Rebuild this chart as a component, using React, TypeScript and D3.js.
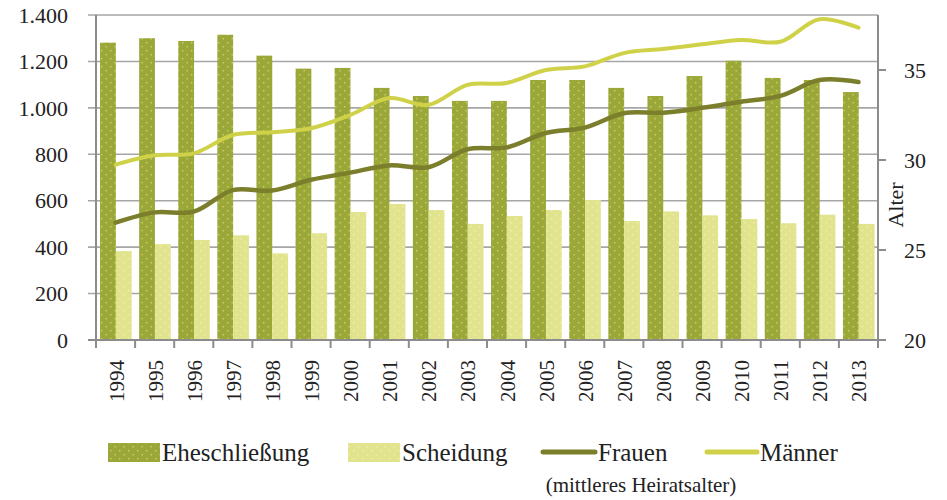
import React, { useEffect, useRef } from "react";
import * as d3 from "d3";

// Jahre (Kategorien)
const years = [
  "1994", "1995", "1996", "1997", "1998", "1999", "2000", "2001", "2002", "2003",
  "2004", "2005", "2006", "2007", "2008", "2009", "2010", "2011", "2012", "2013",
];

// Anzahl Eheschließungen / Scheidungen (linke Achse)
const eheschliessung = [
  1281, 1300, 1288, 1315, 1225, 1169, 1172, 1086, 1051, 1030,
  1030, 1120, 1120, 1086, 1051, 1137, 1203, 1129, 1120, 1068,
];
const scheidung = [
  383, 413, 431, 451, 373, 460, 551, 586, 560, 500,
  534, 560, 603, 513, 554, 537, 521, 503, 540, 500,
];

// mittleres Heiratsalter (rechte Achse)
const frauen = [
  26.52, 27.09, 27.13, 28.33, 28.3, 28.9, 29.3, 29.7, 29.6, 30.6,
  30.7, 31.5, 31.8, 32.6, 32.63, 32.9, 33.24, 33.56, 34.44, 34.33,
];
const maenner = [
  29.74, 30.26, 30.37, 31.39, 31.54, 31.76, 32.5, 33.44, 33.06, 34.17,
  34.28, 35.0, 35.2, 35.94, 36.17, 36.43, 36.67, 36.57, 37.82, 37.35,
];

const leftTicks = [0, 200, 400, 600, 800, 1000, 1200, 1400];
const rightTicks = [20, 25, 30, 35];

const COLOR_EHE = "#9aa83a";
const COLOR_SCH = "#e1e48c";
const COLOR_FRAUEN = "#7b7f2c";
const COLOR_MAENNER = "#cfd249";
const GRID = "#a6a6a6";
const AXIS = "#8c8c8c";
const FONT = "'Liberation Serif', 'DejaVu Serif', serif";

const App = () => {
  const ref = useRef<SVGSVGElement>(null);

  useEffect(() => {
    const svg = d3.select(ref.current);
    svg.selectAll("*").remove();

    const left = 96;
    const right = 878;
    const top = 15;
    const bottom = 340;

    const defs = svg.append("defs");
    const makePattern = (id: string, base: string, dot: string) => {
      const p = defs
        .append("pattern")
        .attr("id", id)
        .attr("patternUnits", "userSpaceOnUse")
        .attr("width", 9)
        .attr("height", 8);
      p.append("rect").attr("width", 9).attr("height", 8).attr("fill", base);
      p.append("rect").attr("x", 2).attr("y", 2).attr("width", 1.4).attr("height", 1.4).attr("fill", dot);
      p.append("rect").attr("x", 6.5).attr("y", 6).attr("width", 1.4).attr("height", 1.4).attr("fill", dot);
    };
    makePattern("pat-ehe", COLOR_EHE, "#dccb5c");
    makePattern("pat-sch", COLOR_SCH, "#eef0bb");

    const x = d3.scaleBand().domain(years).range([left, right]).paddingInner(0).paddingOuter(0);
    const yLeft = d3.scaleLinear().domain([0, 1400]).range([bottom, top]);
    const yRight = d3.scaleLinear().domain([20, 20 + (bottom - top) / 18]).range([bottom, top]);

    const bw = x.bandwidth();
    const barW = 15.8;
    const groupOffset = (bw - 2 * barW) / 2 + 0.3;

    // Gitterlinien
    svg.append("g")
      .selectAll("line")
      .data(leftTicks)
      .enter()
      .append("line")
      .attr("x1", left - 8)
      .attr("x2", right)
      .attr("y1", (d) => yLeft(d))
      .attr("y2", (d) => yLeft(d))
      .attr("stroke", GRID)
      .attr("stroke-width", 1.6);

    // Balken
    const bars = svg.append("g");
    bars.selectAll(".ehe")
      .data(eheschliessung)
      .enter()
      .append("rect")
      .attr("x", (_d, i) => (x(years[i]) as number) + groupOffset)
      .attr("y", (d) => yLeft(d))
      .attr("width", barW)
      .attr("height", (d) => bottom - yLeft(d))
      .attr("fill", "url(#pat-ehe)");
    bars.selectAll(".sch")
      .data(scheidung)
      .enter()
      .append("rect")
      .attr("x", (_d, i) => (x(years[i]) as number) + groupOffset + barW)
      .attr("y", (d) => yLeft(d))
      .attr("width", barW)
      .attr("height", (d) => bottom - yLeft(d))
      .attr("fill", "url(#pat-sch)");

    // Achsen
    svg.append("line")
      .attr("x1", left).attr("x2", left)
      .attr("y1", top).attr("y2", bottom)
      .attr("stroke", AXIS).attr("stroke-width", 2);
    svg.append("line")
      .attr("x1", right).attr("x2", right)
      .attr("y1", top).attr("y2", bottom + 8)
      .attr("stroke", AXIS).attr("stroke-width", 2);
    svg.append("line")
      .attr("x1", left - 8).attr("x2", right + 8)
      .attr("y1", bottom).attr("y2", bottom)
      .attr("stroke", AXIS).attr("stroke-width", 2);

    // Kategorie-Ticks
    svg.append("g")
      .selectAll("line")
      .data(years)
      .enter()
      .append("line")
      .attr("x1", (d) => x(d) as number)
      .attr("x2", (d) => x(d) as number)
      .attr("y1", bottom)
      .attr("y2", bottom + 8)
      .attr("stroke", AXIS)
      .attr("stroke-width", 2);

    // rechte Ticks
    svg.append("g")
      .selectAll("line")
      .data(rightTicks)
      .enter()
      .append("line")
      .attr("x1", right)
      .attr("x2", right + 8)
      .attr("y1", (d) => yRight(d))
      .attr("y2", (d) => yRight(d))
      .attr("stroke", AXIS)
      .attr("stroke-width", 2);

    // Linien
    const line = d3
      .line<number>()
      .x((_d, i) => (x(years[i]) as number) + bw / 2)
      .y((d) => yRight(d))
      .curve(d3.curveCatmullRom.alpha(0.5));
    svg.append("path")
      .attr("d", line(maenner))
      .attr("fill", "none")
      .attr("stroke", COLOR_MAENNER)
      .attr("stroke-width", 4)
      .attr("stroke-linecap", "round");
    svg.append("path")
      .attr("d", line(frauen))
      .attr("fill", "none")
      .attr("stroke", COLOR_FRAUEN)
      .attr("stroke-width", 4.5)
      .attr("stroke-linecap", "round");

    // Beschriftungen links
    const fmt = (v: number) => d3.format(",")(v).replace(/,/g, ".");
    svg.append("g")
      .selectAll("text")
      .data(leftTicks)
      .enter()
      .append("text")
      .attr("x", 68)
      .attr("y", (d) => yLeft(d))
      .attr("dy", "0.35em")
      .attr("text-anchor", "end")
      .attr("font-family", FONT)
      .attr("font-size", 22)
      .attr("fill", "#222")
      .text((d) => fmt(d));

    // Beschriftungen rechts
    svg.append("g")
      .selectAll("text")
      .data(rightTicks)
      .enter()
      .append("text")
      .attr("x", 904)
      .attr("y", (d) => yRight(d))
      .attr("dy", "0.35em")
      .attr("font-family", FONT)
      .attr("font-size", 22)
      .attr("fill", "#222")
      .text((d) => d);

    svg.append("text")
      .attr("transform", "translate(903,205) rotate(-90)")
      .attr("text-anchor", "middle")
      .attr("font-family", FONT)
      .attr("font-size", 22)
      .attr("fill", "#222")
      .text("Alter");

    // Jahre
    svg.append("g")
      .selectAll("text")
      .data(years)
      .enter()
      .append("text")
      .attr("transform", (d) => `translate(${(x(d) as number) + bw / 2 + 8},360) rotate(-90)`)
      .attr("text-anchor", "end")
      .attr("font-family", FONT)
      .attr("font-size", 21)
      .attr("fill", "#222")
      .text((d) => d);

    // Legende
    const lg = svg.append("g").attr("font-family", FONT).attr("font-size", 25).attr("fill", "#222");
    lg.append("rect").attr("x", 108).attr("y", 443).attr("width", 52).attr("height", 19).attr("fill", "url(#pat-ehe)");
    lg.append("text").attr("x", 162).attr("y", 461).text("Eheschließung");
    lg.append("rect").attr("x", 348).attr("y", 443).attr("width", 52).attr("height", 19).attr("fill", "url(#pat-sch)");
    lg.append("text").attr("x", 402).attr("y", 461).text("Scheidung");
    lg.append("line").attr("x1", 543).attr("x2", 595).attr("y1", 452).attr("y2", 452)
      .attr("stroke", COLOR_FRAUEN).attr("stroke-width", 5).attr("stroke-linecap", "round");
    lg.append("text").attr("x", 598).attr("y", 461).text("Frauen");
    lg.append("line").attr("x1", 707).attr("x2", 757).attr("y1", 452).attr("y2", 452)
      .attr("stroke", COLOR_MAENNER).attr("stroke-width", 5).attr("stroke-linecap", "round");
    lg.append("text").attr("x", 760).attr("y", 461).text("Männer");
    lg.append("text")
      .attr("x", 641)
      .attr("y", 492)
      .attr("text-anchor", "middle")
      .attr("font-size", 21)
      .text("(mittleres Heiratsalter)");
  }, []);

  return (
    <svg
      ref={ref}
      width={947}
      height={500}
      style={{ position: "absolute", left: 0, top: 0, background: "#fff" }}
    />
  );
};

export default App;
